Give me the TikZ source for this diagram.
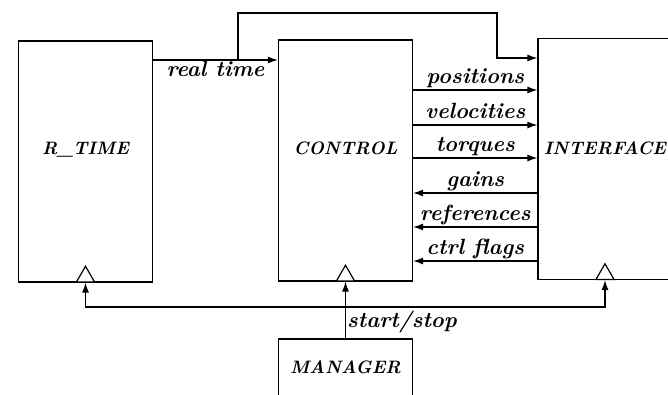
\documentclass[tikz,border=0pt]{standalone}
\usetikzlibrary{arrows.meta,shapes.geometric,positioning}
\begin{document}
\begin{tikzpicture}[x=1pt,y=-1pt,
  blocco/.style={draw, line width=1.2pt, minimum width=134pt, minimum height=241pt, inner sep=0pt},
  nome/.style={font=\fontsize{18}{21}\selectfont\bfseries\itshape, anchor=base},
  segnale/.style={font=\fontsize{22}{24}\selectfont\bfseries\itshape, inner sep=1pt, text depth=4.5pt},
  freccia/.style={line width=1.2pt, -{Latex[length=10pt,width=7pt]}},
  porta/.style={draw, line width=1.2pt, fill=white, regular polygon, regular polygon sides=3,
    minimum size=21pt, inner sep=0pt, anchor=south}]

% Cornice
\useasboundingbox (0,0) rectangle (668,394);
\clip (0,0) rectangle (668,394);

% Blocchi
\node[blocco] (rtime) at (85.5,161.5) {};
\node[blocco] (control) at (345.5,160.5) {};
\node[blocco] (iface) at (605,159) {};
\node[blocco, minimum height=70pt] (manager) at (345.5,374) {};

% Nomi dei blocchi
\node[nome] (rtimetxt) at ([yshift=-114pt]rtime.north) {R\_TIME};
\node[nome] (controltxt) at ([yshift=-115pt]control.north) {CONTROL};
\node[nome] (ifacetxt) at ([yshift=-117pt]iface.north) {INTERFACE};
\node[nome] (managertxt) at ([yshift=-35pt]manager.north) {MANAGER};

% Porte di start/stop
\node[porta] (rtport) at (rtime.south) {};
\node[porta] (ctport) at (control.south) {};
\node[porta] (ifport) at (iface.south) {};

% real time
\draw[freccia] (rtime.east |- 0,60) -- node[segnale, below] {real time} (control.west |- 0,60);
\coordinate (presa) at (238,60);
\draw[freccia] (presa) |- (497,13) |- (iface.west |- 0,58);

% Segnali CONTROL -> INTERFACE
\foreach \yy/\testo in {90/positions, 125/velocities, 158/torques}
  \draw[freccia] (control.east |- 0,\yy) -- node[segnale, above] {\testo} (iface.west |- 0,\yy);

% Segnali INTERFACE -> CONTROL
\foreach \yy/\testo in {193/gains, 227/references, 261/ctrl flags}
  \draw[freccia] (iface.west |- 0,\yy) -- node[segnale, above] {\testo} (control.east |- 0,\yy);

% start/stop
\coordinate (nodo) at (manager.north |- 0,307);
\draw[freccia] (manager.north) -- node[segnale, right, pos=0.3] {start/stop} (ctport.south);
\draw[freccia] (nodo) -| (rtport.south);
\draw[freccia] (nodo) -| (ifport.south);

\end{tikzpicture}
\end{document}
